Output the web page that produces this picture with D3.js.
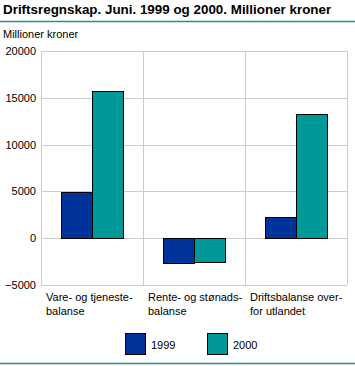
<!DOCTYPE html>
<html><head><meta charset="utf-8">
<script src="https://cdn.jsdelivr.net/npm/d3@7"></script>
<style>body{margin:0;background:#fff}svg{display:block;font-family:"Liberation Sans",Arial,sans-serif}</style>
</head><body><svg id="c" width="355" height="366"></svg>
<script>
const categories = [["Vare- og tjeneste-","balanse"],["Rente- og stønads-","balanse"],["Driftsbalanse over-","for utlandet"]];
const seriesNames = ["1999","2000"];
const values1999 = [4900, -2650, 2250];
const values2000 = [15750, -2550, 13300];
const yTicks = [-5000, 0, 5000, 10000, 15000, 20000];
const colors = ["#00339a", "#009999"];

const svg = d3.select("#c");
const m = {l:41, r:347, t:51, b:285};
const x = d3.scaleBand().domain(d3.range(categories.length)).range([m.l, m.r]).paddingInner(0).paddingOuter(0);
const x1 = d3.scaleBand().domain(seriesNames).range([0, x.bandwidth()]).paddingInner(0).paddingOuter(0.67);
const y = d3.scaleLinear().domain([-5000, 20000]).range([m.b, m.t]);

svg.append("text").attr("x",3).attr("y",14).attr("font-size",13.4).attr("font-weight","bold").attr("fill","#000")
  .text("Driftsregnskap. Juni. 1999 og 2000. Millioner kroner");
svg.append("line").attr("x1",0).attr("x2",355).attr("y1",21.5).attr("y2",21.5).attr("stroke","#2a8f8f").attr("stroke-width",1.5);
svg.append("text").attr("x",3).attr("y",38).attr("font-size",11).text("Millioner kroner");

// grid
svg.append("g").selectAll("line").data(yTicks).join("line")
  .attr("x1",m.l).attr("x2",m.r).attr("y1",d=>Math.round(y(d))+0.5).attr("y2",d=>Math.round(y(d))+0.5)
  .attr("stroke","#cccccc");
svg.append("g").selectAll("line").data(d3.range(categories.length+1)).join("line")
  .attr("x1",d=>Math.round(d<categories.length?x(d):m.r)+0.5).attr("x2",d=>Math.round(d<categories.length?x(d):m.r)+0.5)
  .attr("y1",m.t).attr("y2",m.b).attr("stroke","#cccccc");

// y axis labels
const yAxis = d3.axisLeft(y).tickValues(yTicks).tickSize(0).tickPadding(5).tickFormat(d3.format("d"));
const ga = svg.append("g").attr("transform",`translate(${m.l},0)`).call(yAxis);
ga.select(".domain").remove();
ga.selectAll("text").attr("font-size",11).attr("font-family","Liberation Sans, Arial, sans-serif").attr("fill","#000");

// bars
const series = [values1999, values2000];
categories.forEach((c,i)=>{
  seriesNames.forEach((s,j)=>{
    const v = series[j][i];
    svg.append("rect")
      .attr("x", Math.round(x(i)+x1(s))+0.5)
      .attr("width", Math.round(x1.bandwidth()))
      .attr("y", Math.round(Math.min(y(v),y(0)))+0.5)
      .attr("height", Math.round(Math.abs(y(v)-y(0))))
      .attr("fill", colors[j]).attr("stroke","#000").attr("stroke-width",1);
  });
});

// x labels
const gl = svg.append("g");
categories.forEach((c,i)=>{
  const t = gl.append("text").attr("x", x(i)+5).attr("y", 301).attr("font-size",11);
  c.forEach((line,k)=> t.append("tspan").attr("x", x(i)+5).attr("dy", k?14:0).text(line));
});

// legend
const lg = svg.append("g");
const legX = [125, 207];
seriesNames.forEach((s,j)=>{
  lg.append("rect").attr("x",legX[j]+0.5).attr("y",333.5).attr("width",20).attr("height",21).attr("fill",colors[j]).attr("stroke","#000");
  lg.append("text").attr("x",legX[j]+26).attr("y",349).attr("font-size",11).text(s);
});
svg.append("line").attr("x1",0).attr("x2",355).attr("y1",363.5).attr("y2",363.5).attr("stroke","#2a8f8f").attr("stroke-width",1.5);
</script></body></html>
